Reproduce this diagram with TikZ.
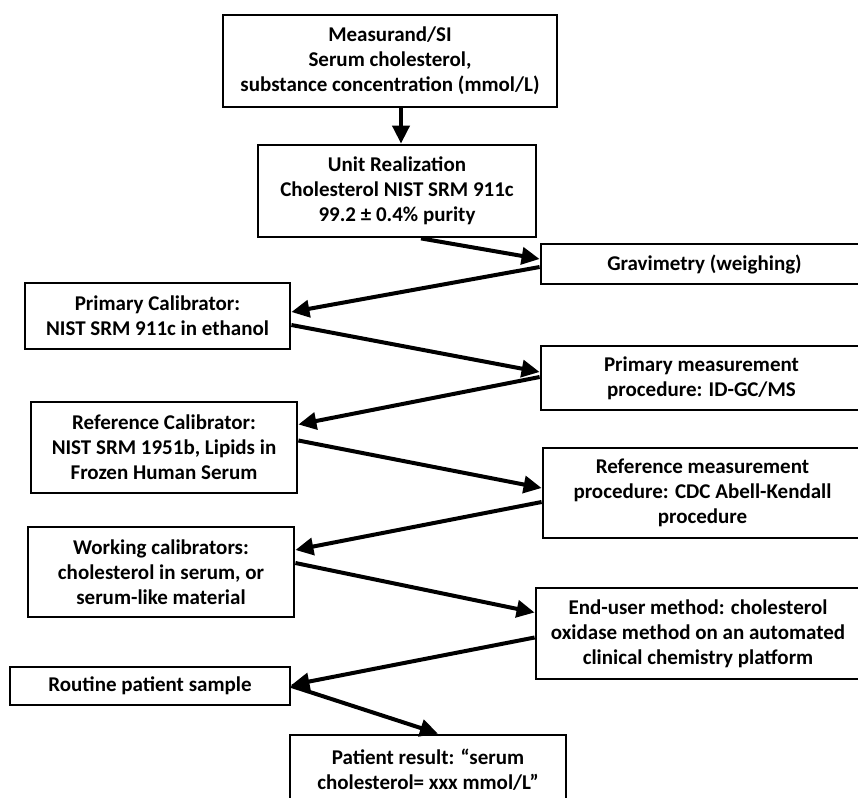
\documentclass[tikz,border=0pt]{standalone}
\usepackage{fontspec}
\setmainfont{Carlito}
\usetikzlibrary{arrows.meta}
\tikzset{
  box/.style={draw, line width=2.8pt, align=center, inner sep=0pt,
    font=\fontsize{21}{25}\selectfont\bfseries},
  arr/.style={line width=4pt, -{Triangle[length=18pt,width=17pt]}}
}
\begin{document}
\begin{tikzpicture}[x=1pt,y=-1pt]
\useasboundingbox (0,0) rectangle (858,797);
\clip (0,0) rectangle (858,797);
\node[box, minimum width=334pt, minimum height=92pt] (b1) at (390,61)
  {Measurand/SI\\Serum cholesterol,\\substance concentration (mmol/L)};
\node[box, minimum width=278pt, minimum height=92pt] (b2) at (397,191)
  {Unit Realization\\Cholesterol NIST SRM 911c\\99.2 ± 0.4\% purity};
\node[box, minimum width=327pt, minimum height=40pt] (b3) at (704.5,264)
  {Gravimetry (weighing)};
\node[box, minimum width=265pt, minimum height=66pt] (b4) at (157.5,316)
  {Primary Calibrator:\\NIST SRM 911c in ethanol};
\node[box, minimum width=321pt, minimum height=64pt] (b5) at (701.5,378)
  {Primary measurement\\procedure: ID-GC/MS};
\node[box, minimum width=266pt, minimum height=91pt] (b6) at (164,447.5)
  {Reference Calibrator:\\NIST SRM 1951b, Lipids in\\Frozen Human Serum};
\node[box, minimum width=319pt, minimum height=90pt] (b7) at (702.5,493)
  {Reference measurement\\procedure: CDC Abell-Kendall\\procedure};
\node[box, minimum width=266pt, minimum height=90pt] (b8) at (161,572)
  {Working calibrators:\\cholesterol in serum, or\\serum-like material};
\node[box, minimum width=324pt, minimum height=91pt] (b9) at (698,633.5)
  {End-user method: cholesterol\\oxidase method on an automated\\clinical chemistry platform};
\node[box, minimum width=280pt, minimum height=38pt] (b10) at (150,686)
  {Routine patient sample};
\node[box, minimum width=276pt, minimum height=70pt] (b11) at (428,770)
  {Patient result: “serum\\cholesterol= xxx mmol/L”};
\draw[arr] ([xshift=11pt]b1.south) -- ([xshift=4pt]b2.north);
\draw[arr] ([xshift=24pt]b2.south) -- ([yshift=5pt]b3.west);
\draw[arr] ([yshift=-3pt]b3.west) -- ([yshift=4pt]b4.east);
\draw[arr] ([yshift=-9pt]b4.east) -- ([yshift=6pt]b5.west);
\draw[arr] ([yshift=1pt]b5.west) -- ([yshift=23pt]b6.east);
\draw[arr] ([yshift=7pt]b6.east) -- ([yshift=5pt]b7.west);
\draw[arr] ([yshift=-9pt]b7.west) -- ([yshift=22pt]b8.east);
\draw[arr] ([yshift=9pt]b8.east) -- ([yshift=21pt]b9.west);
\draw[arr] ([yshift=-4pt]b9.west) -- ([yshift=1pt]b10.east);
\draw[arr] (b10.east) -- ([xshift=10pt]b11.north);
\end{tikzpicture}
\end{document}
